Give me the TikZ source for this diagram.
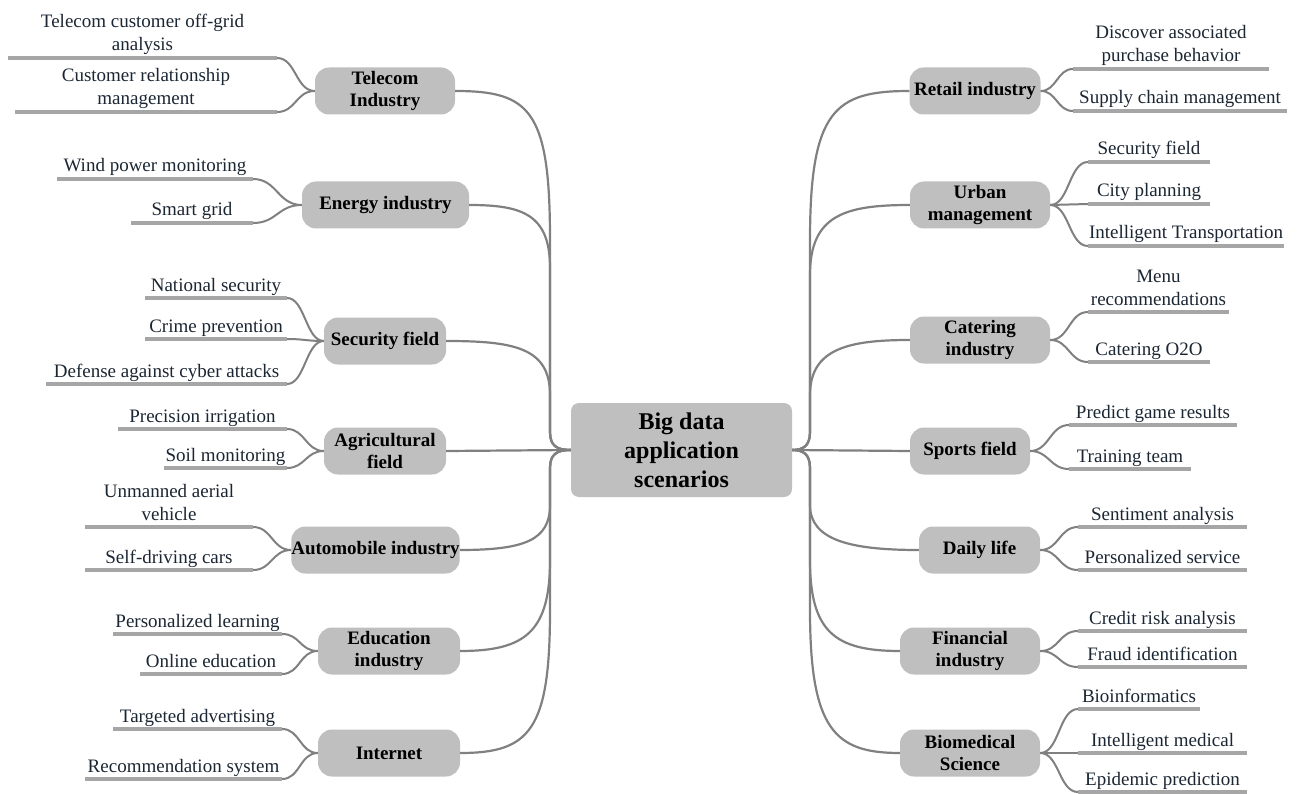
\documentclass[tikz,border=0pt]{standalone}
\usepackage{fontspec}
\setmainfont{Liberation Serif}
\definecolor{boxgray}{HTML}{BFBFBF}
\definecolor{linegray}{HTML}{808080}
\definecolor{ulgray}{HTML}{A6A6A6}
\definecolor{leaftext}{HTML}{1B2633}
\tikzset{
  catbox/.style={fill=boxgray, rounded corners=14pt, minimum height=47pt, inner xsep=0pt, inner ysep=2pt,
    align=center, font=\fontsize{19}{22}\selectfont\bfseries, text=black},
  ctrbox/.style={fill=boxgray, rounded corners=8pt, minimum width=221pt, minimum height=94pt, inner sep=0pt,
    align=center, font=\fontsize{24}{29}\selectfont\bfseries, text=black},
  leaf/.style={inner sep=0pt, align=center, font=\fontsize{19}{23}\selectfont, text=leaftext},
  uline/.style={draw=ulgray, line width=4pt},
  conn/.style={draw=linegray, line width=2.2pt},
  subconn/.style={draw=linegray, line width=2pt},
}
\newcommand\leafnode[6]{%
  \coordinate (#1-l) at (#2,#4);
  \coordinate (#1-r) at (#3,#4);
  \draw[uline] (#1-l) -- (#1-r);
  \node[leaf,anchor=base] (#1) at ({(#2+#3)/2},{#4-7}) {#6};
}
\begin{document}
\begin{tikzpicture}[x=1pt,y=-1pt]
\useasboundingbox (0,0) rectangle (1300,794);

% centre
\node[ctrbox] (ctr) at (681.5,450) {Big data\\application\\scenarios};

% left categories
\node[catbox, minimum width=140pt] (tel) at (385,91) {Telecom\\Industry};
\node[catbox, minimum width=167pt] (ene) at (385.5,205) {Energy industry};
\node[catbox, minimum width=122pt] (sec) at (385,341) {Security field};
\node[catbox, minimum width=122pt] (agr) at (385,451) {Agricultural\\field};
\node[catbox, minimum width=167pt] (aut) at (375.5,550) {Automobile industry};
\node[catbox, minimum width=142pt] (edu) at (389,651) {Education\\industry};
\node[catbox, minimum width=142pt] (int) at (389,753) {Internet};

% right categories
\node[catbox, minimum width=131pt] (ret) at (975,91) {Retail industry};
\node[catbox, minimum width=140pt] (urb) at (980,205) {Urban\\management};
\node[catbox, minimum width=140pt] (cat) at (980,340) {Catering\\industry};
\node[catbox, minimum width=120pt] (spo) at (970,451) {Sports field};
\node[catbox, minimum width=121pt] (dai) at (979.5,550) {Daily life};
\node[catbox, minimum width=140pt] (fin) at (970,651) {Financial\\industry};
\node[catbox, minimum width=140pt] (bio) at (970,753) {Biomedical\\Science};

% main connectors, left
\draw[conn] (tel.east) .. controls (530,91) and (550,110) .. (550,240) -- (550,432) .. controls (550,446) and (557,450) .. (ctr.west);
\draw[conn] (ene.east) .. controls (522,205) and (550,214) .. (550,268) -- (550,432) .. controls (550,446) and (557,450) .. (ctr.west);
\draw[conn] (sec.east) .. controls (515,341) and (550,348) .. (550,395) -- (550,432) .. controls (550,446) and (557,450) .. (ctr.west);
\draw[conn] (agr.east) -- (ctr.west);
\draw[conn] (aut.east) .. controls (525,550) and (550,540) .. (550,505) -- (550,468) .. controls (550,454) and (557,450) .. (ctr.west);
\draw[conn] (edu.east) .. controls (525,651) and (550,632) .. (550,560) -- (550,468) .. controls (550,454) and (557,450) .. (ctr.west);
\draw[conn] (int.east) .. controls (530,753) and (550,730) .. (550,610) -- (550,468) .. controls (550,454) and (557,450) .. (ctr.west);

% main connectors, right
\draw[conn] (ret.west) .. controls (835,91) and (810,110) .. (810,240) -- (810,432) .. controls (810,446) and (803,450) .. (ctr.east);
\draw[conn] (urb.west) .. controls (845,205) and (810,215) .. (810,275) -- (810,432) .. controls (810,446) and (803,450) .. (ctr.east);
\draw[conn] (cat.west) .. controls (850,340) and (810,348) .. (810,395) -- (810,432) .. controls (810,446) and (803,450) .. (ctr.east);
\draw[conn] (spo.west) -- (ctr.east);
\draw[conn] (dai.west) .. controls (850,550) and (810,540) .. (810,505) -- (810,468) .. controls (810,454) and (803,450) .. (ctr.east);
\draw[conn] (fin.west) .. controls (835,651) and (810,632) .. (810,560) -- (810,468) .. controls (810,454) and (803,450) .. (ctr.east);
\draw[conn] (bio.west) .. controls (835,753) and (810,730) .. (810,610) -- (810,468) .. controls (810,454) and (803,450) .. (ctr.east);

% left leaves
\leafnode{tel1}{8}{277}{58}{2}{Telecom customer off-grid\\analysis}
\leafnode{tel2}{15}{277}{112}{2}{Customer relationship\\management}
\leafnode{ene1}{57}{253}{179}{1}{Wind power monitoring}
\leafnode{ene2}{131}{253}{223}{1}{Smart grid}
\leafnode{sec1}{145}{287}{298}{1}{National security}
\leafnode{sec2}{145}{287}{339}{1}{Crime prevention}
\leafnode{sec3}{46}{287}{384}{1}{Defense against cyber attacks}
\leafnode{agr1}{118}{287}{429}{1}{Precision irrigation}
\leafnode{agr2}{164}{287}{468}{1}{Soil monitoring}
\leafnode{aut1}{85}{253}{527}{2}{Unmanned aerial\\vehicle}
\leafnode{aut2}{85}{253}{570}{1}{Self-driving cars}
\leafnode{edu1}{113}{282}{634}{1}{Personalized learning}
\leafnode{edu2}{140}{282}{674}{1}{Online education}
\leafnode{int1}{113}{282}{729}{1}{Targeted advertising}
\leafnode{int2}{85}{282}{779}{1}{Recommendation system}

% right leaves
\leafnode{ret1}{1073}{1269}{69}{2}{Discover associated\\purchase behavior}
\leafnode{ret2}{1073}{1287}{111}{1}{Supply chain management}
\leafnode{urb1}{1088}{1210}{162}{1}{Security field}
\leafnode{urb2}{1088}{1210}{204}{1}{City planning}
\leafnode{urb3}{1088}{1284}{246}{1}{Intelligent Transportation}
\leafnode{cat1}{1088}{1229}{312}{2}{Menu\\recommendations}
\leafnode{cat2}{1088}{1210}{362}{1}{Catering O2O}
\leafnode{spo1}{1069}{1237}{425}{1}{Predict game results}
\leafnode{spo2}{1069}{1191}{469}{1}{Training team}
\leafnode{dai1}{1078}{1247}{527}{1}{Sentiment analysis}
\leafnode{dai2}{1078}{1247}{570}{1}{Personalized service}
\leafnode{fin1}{1078}{1247}{631}{1}{Credit risk analysis}
\leafnode{fin2}{1078}{1247}{667}{1}{Fraud identification}
\leafnode{bio1}{1078}{1200}{709}{1}{Bioinformatics}
\leafnode{bio2}{1078}{1247}{753}{1}{Intelligent medical}
\leafnode{bio3}{1078}{1247}{792}{1}{Epidemic prediction}

% leaf connectors, left
\foreach \c/\l/\d in {tel/tel1/19, tel/tel2/19, ene/ene1/24, ene/ene2/24, sec/sec1/18, sec/sec2/18, sec/sec3/18,
  agr/agr1/18, agr/agr2/18, aut/aut1/19, aut/aut2/19, edu/edu1/18, edu/edu2/18, int/int1/18, int/int2/18}
  \draw[subconn] (\c.west) .. controls +(-\d,0) and +(\d,0) .. (\l-r);
% leaf connectors, right
\foreach \c/\l/\d in {ret/ret1/16, ret/ret2/16, urb/urb1/19, urb/urb2/19, urb/urb3/19, cat/cat1/19, cat/cat2/19,
  spo/spo1/19, spo/spo2/19, dai/dai1/19, dai/dai2/19, fin/fin1/19, fin/fin2/19, bio/bio1/19, bio/bio2/19, bio/bio3/19}
  \draw[subconn] (\c.east) .. controls +(\d,0) and +(-\d,0) .. (\l-l);
\end{tikzpicture}
\end{document}
